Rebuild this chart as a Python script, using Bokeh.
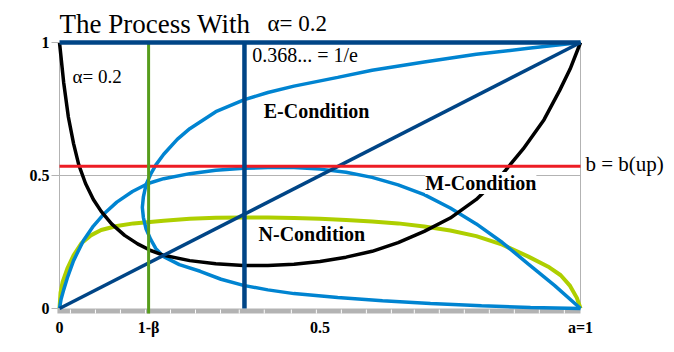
from bokeh.plotting import figure
from bokeh.models import Range1d, FixedTicker, Label
from bokeh.embed import file_html
from bokeh.resources import INLINE

# ---------------- data ----------------
black_x = [0.0, 0.008, 0.017, 0.027, 0.037, 0.05, 0.065, 0.08, 0.1, 0.125, 0.15, 0.175, 0.2, 0.25,
           0.3, 0.353, 0.4, 0.45, 0.5, 0.55, 0.6, 0.65, 0.7, 0.75, 0.8, 0.85, 0.89, 0.93, 0.96,
           0.98, 1.0]
black_y = [1.0, 0.85, 0.72, 0.62, 0.54, 0.47, 0.41, 0.365, 0.318, 0.275, 0.243, 0.218, 0.2, 0.18,
           0.168, 0.162, 0.162, 0.166, 0.177, 0.193, 0.215, 0.248, 0.29, 0.34, 0.41, 0.505, 0.6,
           0.71, 0.82, 0.9, 1.0]

e_x = [1.0, 0.9, 0.8, 0.7, 0.6, 0.534, 0.45, 0.4, 0.355, 0.3, 0.25, 0.226, 0.2, 0.185, 0.175,
       0.166, 0.161, 0.159, 0.161, 0.166, 0.175, 0.185, 0.2, 0.23, 0.27, 0.31, 0.353, 0.4, 0.45,
       0.534, 0.62, 0.712, 0.81, 0.904, 1.0]
e_y = [1.0, 0.978, 0.956, 0.927, 0.896, 0.869, 0.836, 0.812, 0.785, 0.74, 0.676, 0.636, 0.58,
       0.54, 0.505, 0.465, 0.42, 0.38, 0.342, 0.3, 0.26, 0.225, 0.195, 0.165, 0.14, 0.11, 0.087,
       0.07, 0.056, 0.041, 0.029, 0.019, 0.01, 0.004, 0.0]

m_x = [0.0, 0.003, 0.008, 0.015, 0.027, 0.046, 0.065, 0.085, 0.11, 0.14, 0.17, 0.2, 0.25, 0.3,
       0.353, 0.4, 0.45, 0.5, 0.55, 0.6, 0.65, 0.7, 0.75, 0.8, 0.85, 0.9, 0.95, 1.0]
m_y = [0.0, 0.035, 0.07, 0.115, 0.18, 0.256, 0.31, 0.355, 0.4, 0.44, 0.47, 0.488, 0.507, 0.52,
       0.527, 0.53, 0.53, 0.524, 0.512, 0.493, 0.465, 0.428, 0.378, 0.318, 0.248, 0.167, 0.087, 0.0]

n_x = [0.0, 0.002, 0.006, 0.015, 0.027, 0.042, 0.06, 0.08, 0.11, 0.142, 0.2, 0.25, 0.3, 0.353,
       0.4, 0.45, 0.5, 0.55, 0.6, 0.65, 0.7, 0.75, 0.8, 0.85, 0.9, 0.94, 0.962, 0.98, 0.993, 1.0]
n_y = [0.0, 0.06, 0.1, 0.15, 0.2, 0.245, 0.275, 0.295, 0.31, 0.32, 0.33, 0.337, 0.341, 0.342,
       0.342, 0.34, 0.337, 0.333, 0.327, 0.32, 0.308, 0.293, 0.272, 0.24, 0.195, 0.155, 0.125,
       0.085, 0.04, 0.0]

diag_x = [0.0, 1.0]
diag_y = [0.0, 1.0]
top_x = [0.0, 1.0]
top_y = [1.0, 1.0]
one_over_e_x = 0.355          # vertical line labelled 0.368... = 1/e
one_minus_beta_x = 0.171      # vertical line 1-beta
b_up = 0.535                  # horizontal line b = b(up)

y_ticks = [0, 0.5, 1]
y_tick_labels = {0: "0", 0.5: "0.5", 1: "1"}
x_ticks = [0, one_minus_beta_x, 0.5, 1]
x_tick_labels = {0: "0", one_minus_beta_x: "1-β", 0.5: "0.5", 1: "a=1"}
band_ticks = [0.021, 0.069, 0.117, 0.165, 0.213, 0.261, 0.309, 0.345, 0.393, 0.445, 0.493,
              0.541, 0.589, 0.637, 0.681, 0.729, 0.777, 0.825, 0.873, 0.921, 0.969]

# ---------------- colours ----------------
DARK = "#004586"
LIGHT = "#0084d1"
YG = "#aecf00"
GREEN = "#579d1c"
RED = "#ed1c24"
GRAY = "#b3b3b3"
SERIF = "Liberation Serif"

p = figure(width=674, height=352, x_range=Range1d(-0.01536, 1.1804), y_range=Range1d(-0.0263, 1.1579),
           output_backend="svg", toolbar_location=None,
           min_border_left=51, min_border_right=0, min_border_top=0, min_border_bottom=37)
p.outline_line_color = None
p.background_fill_color = "white"
p.border_fill_color = "white"
p.xgrid.visible = False
p.ygrid.visible = False

# axes
p.yaxis.ticker = FixedTicker(ticks=y_ticks)
p.yaxis.major_label_overrides = y_tick_labels
p.yaxis.axis_line_color = None
p.yaxis.major_tick_in = 8
p.yaxis.major_tick_out = 0
p.yaxis.major_tick_line_color = GRAY
p.yaxis.minor_tick_line_color = None
p.yaxis.major_label_standoff = 2
p.yaxis.major_label_text_font = SERIF
p.yaxis.major_label_text_font_style = "bold"
p.yaxis.major_label_text_font_size = "16px"
p.yaxis.major_label_text_color = "black"

p.xaxis.ticker = FixedTicker(ticks=x_ticks)
p.xaxis.major_label_overrides = x_tick_labels
p.xaxis.axis_line_color = None
p.xaxis.major_tick_in = 0
p.xaxis.major_tick_out = 0
p.xaxis.major_tick_line_color = None
p.xaxis.minor_tick_line_color = None
p.xaxis.major_label_standoff = 3
p.xaxis.major_label_text_font = SERIF
p.xaxis.major_label_text_font_style = "bold"
p.xaxis.major_label_text_font_size = "16px"
p.xaxis.major_label_text_color = "black"

# grid / frame lines
p.segment(x0=[0, 0], y0=[0.5, 1], x1=[1, 1], y1=[0.5, 1], line_color=GRAY, line_width=1)
p.segment(x0=[0, 1], y0=[0, 0], x1=[0, 1], y1=[1, 1], line_color=GRAY, line_width=1)

# grey band under the x axis with white ticks
p.quad(left=[-0.004], right=[1.0], bottom=[-0.019], top=[0.0], fill_color=GRAY, line_color=None)
p.segment(x0=band_ticks, y0=[-0.004] * len(band_ticks), x1=band_ticks, y1=[-0.019] * len(band_ticks),
          line_color="white", line_width=1)

# curves
p.line(n_x, n_y, line_color=YG, line_width=4)
p.line(m_x, m_y, line_color=LIGHT, line_width=3.5)
p.line(e_x, e_y, line_color=LIGHT, line_width=3.5)
p.line(black_x, black_y, line_color="black", line_width=3.5)
p.line(diag_x, diag_y, line_color=DARK, line_width=3.5)
p.line([0, 1], [b_up, b_up], line_color=RED, line_width=3)
p.line([one_minus_beta_x, one_minus_beta_x], [-0.019, 1.0], line_color=GREEN, line_width=3)
p.line([one_over_e_x, one_over_e_x], [0.0, 1.0], line_color=DARK, line_width=4.5)
p.line(top_x, top_y, line_color=DARK, line_width=4.5)

def lab(text, x, y, size, bold=False, bg=None):
    kw = dict(x=x, y=y, x_units="data", y_units="data", text=text, text_font=SERIF,
              text_font_size=size, text_font_style="bold" if bold else "normal",
              text_color="black", text_baseline="alphabetic", text_align="left")
    if bg:
        kw["background_fill_color"] = bg
    p.add_layout(Label(**kw))

lab("The Process With", 0.0, 1.071, "27px")
lab("α= 0.2", 0.399, 1.071, "23px")
lab("α= 0.2", 0.025, 0.873, "19px")
lab("0.368... = 1/e", 0.370, 0.952, "20px")
lab("E-Condition", 0.392, 0.744, "20px", bold=True)
lab("M-Condition", 0.702, 0.472, "20px", bold=True, bg="white")
lab("N-Condition", 0.382, 0.280, "20px", bold=True)
lab("b = b(up)", 1.0096, 0.545, "21px")

open("out.html", "w").write(file_html(p, INLINE))
